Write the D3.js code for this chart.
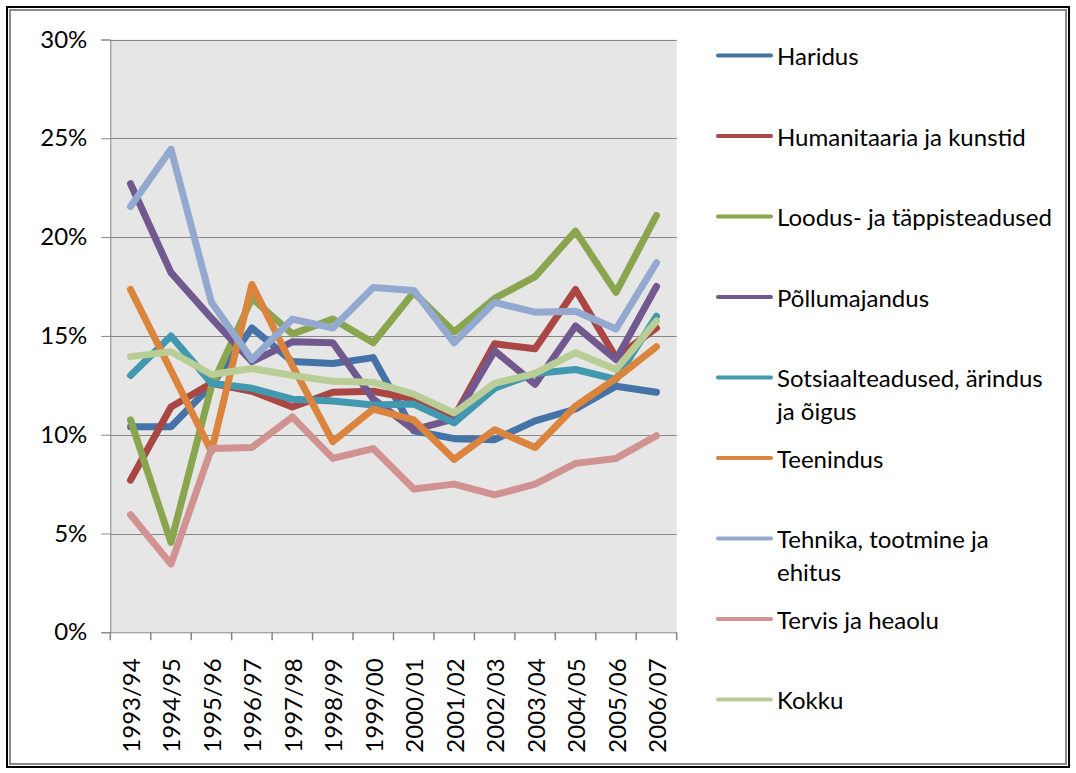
<!DOCTYPE html>
<html>
<head>
<meta charset="utf-8">
<script src="https://cdn.jsdelivr.net/npm/d3@7"></script>
<style>
  html, body { margin: 0; padding: 0; background: #fff; }
  svg { display: block; }
  text { font-family: Lato, "Open Sans", sans-serif; fill: #000; }
</style>
</head>
<body>
<svg id="chart" width="1076" height="773"></svg>
<script>
// Academic years on the x axis
const years = ["1993/94","1994/95","1995/96","1996/97","1997/98","1998/99","1999/00",
               "2000/01","2001/02","2002/03","2003/04","2004/05","2005/06","2006/07"];

// Share of each field of study, per cent
const haridus       = [10.4, 10.4, 12.5, 15.4, 13.7, 13.6, 13.9, 10.2, 9.8, 9.75, 10.7, 11.3, 12.45, 12.15];
const humanitaaria  = [7.7, 11.4, 12.6, 12.2, 11.4, 12.15, 12.2, 11.8, 10.9, 14.6, 14.35, 17.35, 13.9, 15.4];
const loodus        = [10.75, 4.55, 12.45, 16.9, 15.1, 15.85, 14.65, 17.2, 15.2, 16.9, 18.0, 20.3, 17.2, 21.1];
const pollumajandus = [22.7, 18.2, 15.9, 13.7, 14.7, 14.65, 11.8, 10.25, 10.8, 14.25, 12.55, 15.5, 13.8, 17.5];
const sotsiaal      = [13.0, 15.0, 12.6, 12.35, 11.8, 11.7, 11.5, 11.55, 10.6, 12.35, 13.1, 13.3, 12.8, 16.0];
const teenindus     = [17.35, 13.25, 9.15, 17.6, 13.5, 9.65, 11.3, 10.75, 8.75, 10.25, 9.35, 11.45, 12.85, 14.45];
const tehnika       = [21.55, 24.45, 16.7, 13.8, 15.85, 15.4, 17.45, 17.3, 14.65, 16.7, 16.2, 16.25, 15.35, 18.7];
const tervis        = [5.95, 3.45, 9.3, 9.35, 10.9, 8.8, 9.3, 7.25, 7.5, 6.95, 7.5, 8.55, 8.8, 9.95];
const kokku         = [13.95, 14.2, 13.05, 13.35, 13.0, 12.7, 12.65, 12.05, 11.1, 12.6, 13.1, 14.15, 13.3, 15.75];

// Legend labels (multi-line labels split into lines)
const seriesNames = [
  ["Haridus"],
  ["Humanitaaria ja kunstid"],
  ["Loodus- ja täppisteadused"],
  ["Põllumajandus"],
  ["Sotsiaalteadused, ärindus", "ja õigus"],
  ["Teenindus"],
  ["Tehnika, tootmine ja", "ehitus"],
  ["Tervis ja heaolu"],
  ["Kokku"]
];
const seriesColors = ["#4572A7","#AA4643","#89A54E","#71588F","#4198AF","#DB843D","#93A9CF","#D19392","#B9CD96"];
const seriesValues = [haridus, humanitaaria, loodus, pollumajandus, sotsiaal, teenindus, tehnika, tervis, kokku];

const yTicks = [0, 5, 10, 15, 20, 25, 30];

const svg = d3.select("#chart");

// outer frame
svg.append("rect").attr("x", 7).attr("y", 7).attr("width", 1062).attr("height", 760)
  .attr("fill", "none").attr("stroke", "#000").attr("stroke-width", 2);
svg.append("rect").attr("x", 10).attr("y", 10).attr("width", 1056).attr("height", 754)
  .attr("fill", "none").attr("stroke", "#8a8a8a").attr("stroke-width", 2);

const plot = { left: 110.3, right: 676.7, top: 39.5, bottom: 632.3 };

const x = d3.scaleBand().domain(years).range([plot.left, plot.right]).padding(0);
const y = d3.scaleLinear().domain([0, 30]).range([plot.bottom, plot.top]);

// plot background
svg.append("rect")
  .attr("x", plot.left).attr("y", plot.top)
  .attr("width", plot.right - plot.left).attr("height", plot.bottom - plot.top)
  .attr("fill", "#E6E6E6");

// horizontal gridlines
svg.append("g").selectAll("line").data(yTicks.filter(d => d > 0)).join("line")
  .attr("x1", plot.left).attr("x2", plot.right)
  .attr("y1", d => Math.round(y(d)) + 0.5).attr("y2", d => Math.round(y(d)) + 0.5)
  .attr("stroke", "#868686").attr("stroke-width", 1);

// y axis
const yAxis = svg.append("g").attr("transform", `translate(${plot.left},0)`)
  .call(d3.axisLeft(y).tickValues(yTicks).tickFormat(d => d + "%").tickSize(9).tickPadding(14));
yAxis.select(".domain").attr("stroke", "#868686");
yAxis.selectAll(".tick line").attr("stroke", "#868686");
yAxis.selectAll(".tick text").attr("font-size", 24).attr("font-family", "Lato, sans-serif").attr("fill", "#000");

// x axis with ticks at category boundaries
const xAxis = svg.append("g").attr("transform", `translate(0,${plot.bottom})`)
  .call(d3.axisBottom(x).tickSize(0).tickPadding(0));
xAxis.select(".domain").attr("stroke", "#868686");
xAxis.selectAll(".tick text")
  .attr("font-size", 24).attr("font-family", "Lato, sans-serif").attr("fill", "#000")
  .attr("text-anchor", "end")
  .attr("dominant-baseline", "central")
  .attr("transform", "translate(0,26) rotate(-90)")
  .attr("x", 0).attr("y", 0).attr("dy", null);
const bounds = years.map(d => x(d)).concat([x(years[years.length - 1]) + x.bandwidth()]);
xAxis.append("g").selectAll("line").data(bounds).join("line")
  .attr("x1", d => d).attr("x2", d => d).attr("y1", 0).attr("y2", 8)
  .attr("stroke", "#868686").attr("stroke-width", 1.5);

// series lines
const line = d3.line()
  .x((d, i) => x(years[i]) + x.bandwidth() / 2)
  .y(d => y(d));

svg.append("g").selectAll("path").data(seriesValues).join("path")
  .attr("d", d => line(d))
  .attr("fill", "none")
  .attr("stroke", (d, i) => seriesColors[i])
  .attr("stroke-width", 7)
  .attr("stroke-linejoin", "round")
  .attr("stroke-linecap", "round");

// legend
const legend = svg.append("g");
const legendTop = 55.5, legendStep = 80.5;
seriesNames.forEach((lines, i) => {
  const cy = legendTop + i * legendStep;
  legend.append("line")
    .attr("x1", 718).attr("x2", 771).attr("y1", cy).attr("y2", cy)
    .attr("stroke", seriesColors[i]).attr("stroke-width", 4).attr("stroke-linecap", "round");
  lines.forEach((t, j) => {
    legend.append("text")
      .attr("x", 777).attr("y", cy + j * 33)
      .attr("dominant-baseline", "central")
      .attr("font-size", 24)
      .text(t);
  });
});
</script>
</body>
</html>
